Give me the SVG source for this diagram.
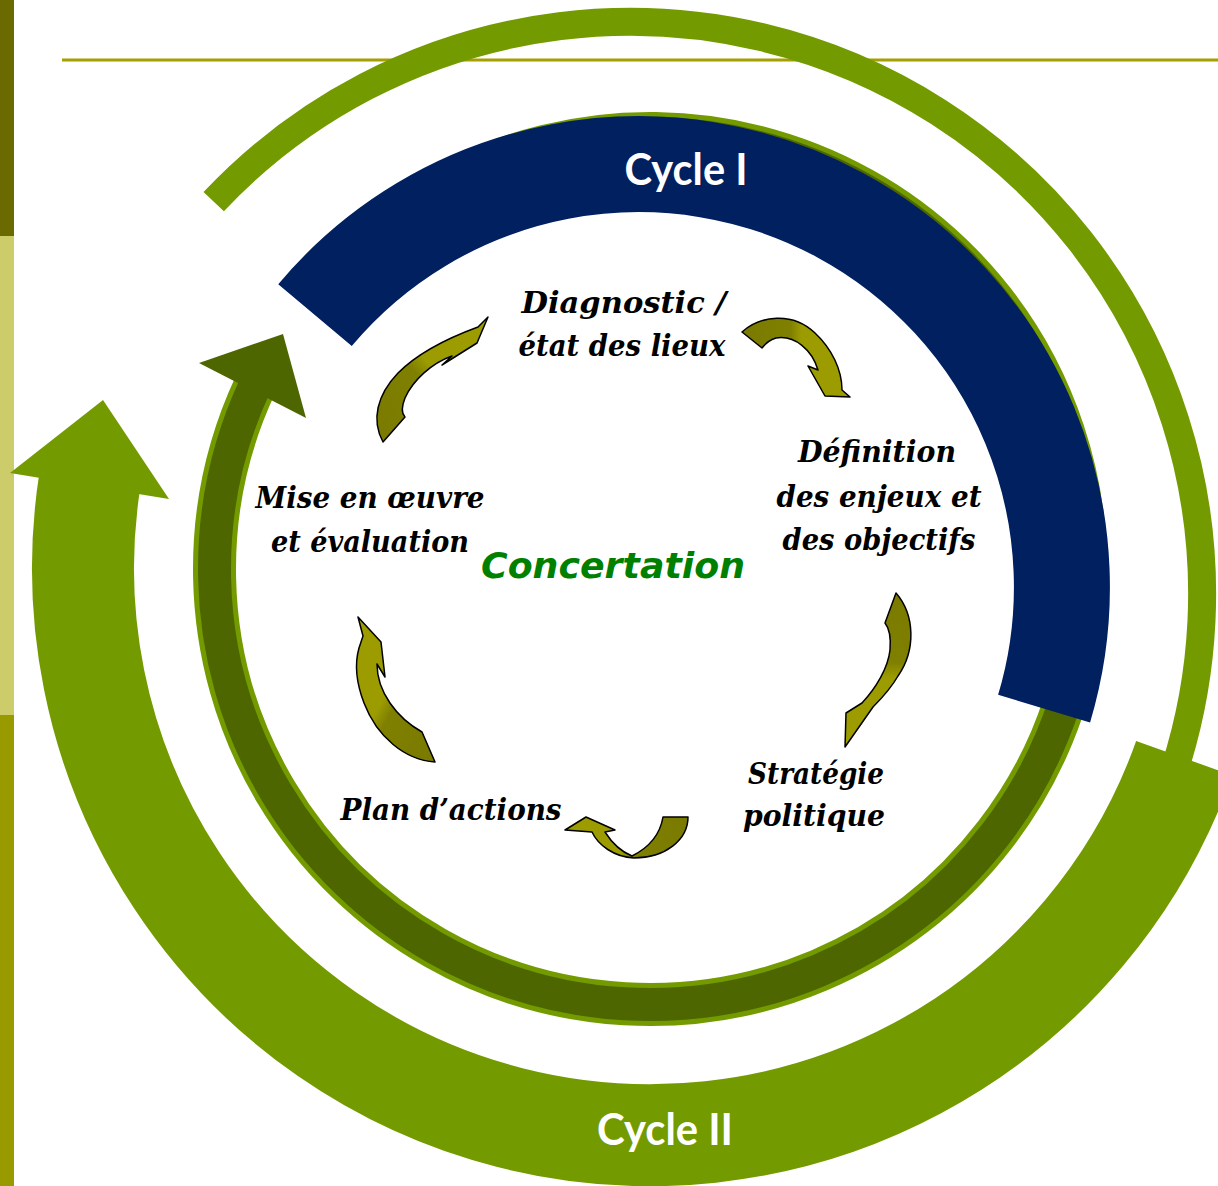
<svg xmlns="http://www.w3.org/2000/svg" width="1218" height="1186" viewBox="0 0 1218 1186">
<defs>
<style>
.lbl{font-family:"DejaVu Serif","Liberation Serif",serif;font-weight:bold;font-style:italic;font-size:29px;fill:#000;text-anchor:middle}
.cyc{font-family:Lato,"Open Sans",sans-serif;font-weight:bold;font-size:44px;fill:#fff;text-anchor:middle}
.conc{font-family:"DejaVu Sans",Verdana,sans-serif;font-weight:bold;font-style:italic;font-size:36px;fill:#008000;text-anchor:middle}
.ca{stroke:#000;stroke-width:1.5;stroke-linejoin:round}
.arc{fill:none}
</style>
<linearGradient id="g1" x1="0" y1="1" x2="1" y2="0"><stop offset="0" stop-color="#7a7a00"/><stop offset="0.45" stop-color="#7f7f00"/><stop offset="0.55" stop-color="#9c9c00"/><stop offset="1" stop-color="#9c9c00"/></linearGradient>
<linearGradient id="g2" x1="0" y1="0" x2="1" y2="0"><stop offset="0" stop-color="#7a7a00"/><stop offset="0.45" stop-color="#7f7f00"/><stop offset="0.55" stop-color="#9c9c00"/><stop offset="1" stop-color="#9c9c00"/></linearGradient>
<linearGradient id="g3" x1="0" y1="0" x2="0" y2="1"><stop offset="0" stop-color="#7a7a00"/><stop offset="0.45" stop-color="#7f7f00"/><stop offset="0.55" stop-color="#9c9c00"/><stop offset="1" stop-color="#9c9c00"/></linearGradient>
<linearGradient id="g4" x1="1" y1="0" x2="0" y2="0"><stop offset="0" stop-color="#7a7a00"/><stop offset="0.45" stop-color="#7f7f00"/><stop offset="0.55" stop-color="#9c9c00"/><stop offset="1" stop-color="#9c9c00"/></linearGradient>
<linearGradient id="g5" x1="1" y1="1" x2="0" y2="0"><stop offset="0" stop-color="#7a7a00"/><stop offset="0.45" stop-color="#7f7f00"/><stop offset="0.55" stop-color="#9c9c00"/><stop offset="1" stop-color="#9c9c00"/></linearGradient>
</defs>
<rect x="0" y="0" width="1218" height="1186" fill="#fff"/>
<g id="frame">
<rect x="0" y="0" width="14" height="236" fill="#6b6a00"/>
<rect x="0" y="236" width="14" height="479" fill="#cccc6b"/>
<rect x="0" y="715" width="14" height="471" fill="#999900"/>
<line x1="62" y1="60" x2="1218" y2="60" stroke="#a3a000" stroke-width="3"/>
</g>
<g id="cycle2">
<path class="arc" d="M213.7,201.7 A572,572 0 0 1 1160.4,808.3" stroke="#739b00" stroke-width="28"/>
<path class="arc" d="M1184.2,758.2 A567,567 0 0 1 90.0,479.3" stroke="#739b00" stroke-width="102"/>
<polygon points="10,473 103,400 169,499" fill="#739b00"/>
<text class="cyc" x="665" y="1145" textLength="136" lengthAdjust="spacingAndGlyphs">Cycle II</text>
</g>
<g id="concertation-ring">
<path class="arc" d="M370.1,235.4 A435.5,435.5 0 1 1 255.3,385.0" stroke="#739b00" stroke-width="43"/>
<path class="arc" d="M370.1,235.4 A435.5,435.5 0 1 1 255.3,385.0" stroke="#4e6600" stroke-width="33"/>
<polygon points="199,363 283,334 306,418" fill="#4e6600"/>
</g>
<g id="cycle1">
<path class="arc" d="M315.0,315.1 A423,423 0 0 1 1044.1,708.6" stroke="#002060" stroke-width="96"/>
<text class="cyc" x="686" y="185" textLength="123" lengthAdjust="spacingAndGlyphs">Cycle I</text>
</g>
<g id="node-concertation"><text class="conc" x="613" y="578" textLength="264" lengthAdjust="spacingAndGlyphs">Concertation</text></g>
<g id="node-diagnostic">
<text class="lbl" x="624" y="313" textLength="205" lengthAdjust="spacingAndGlyphs">Diagnostic /</text>
<text class="lbl" x="622" y="356" textLength="207" lengthAdjust="spacingAndGlyphs">état des lieux</text>
</g>
<g id="node-definition">
<text class="lbl" x="877" y="462" textLength="158" lengthAdjust="spacingAndGlyphs">Définition</text>
<text class="lbl" x="879" y="507" textLength="205" lengthAdjust="spacingAndGlyphs">des enjeux et</text>
<text class="lbl" x="879" y="550" textLength="193" lengthAdjust="spacingAndGlyphs">des objectifs</text>
</g>
<g id="node-strategie">
<text class="lbl" x="816" y="784" textLength="136" lengthAdjust="spacingAndGlyphs">Stratégie</text>
<text class="lbl" x="814" y="826" textLength="142" lengthAdjust="spacingAndGlyphs">politique</text>
</g>
<g id="node-plan">
<text class="lbl" x="451" y="820" textLength="221" lengthAdjust="spacingAndGlyphs">Plan d’actions</text>
</g>
<g id="node-mise">
<text class="lbl" x="370" y="508" textLength="229" lengthAdjust="spacingAndGlyphs">Mise en œuvre</text>
<text class="lbl" x="370" y="552" textLength="198" lengthAdjust="spacingAndGlyphs">et évaluation</text>
</g>
<g id="connectors">
<path class="ca" fill="url(#g1)" d="M383,442 C371,420 377,395 398,373 C418,353 448,338 478,327 L488,317 L477,343 L442,365 L452,356 C432,363 413,380 405,398 C401,408 402,414 405,417 Z"/>
<path class="ca" fill="url(#g2)" d="M742,332 C760,316 792,311 815,333 C832,349 842,370 842,390 L850,397 L825,396 L808,366 L818,370 C812,350 795,335 776,338 C769,340 765,344 762,348 Z"/>
<path class="ca" fill="url(#g3)" d="M896,593 C915,615 916,650 898,676 C890,690 880,700 873,707 L845,747 L846,713 L862,703 C876,688 888,668 890,650 C891,638 889,628 885,623 Z"/>
<path class="ca" fill="url(#g4)" d="M688,817 C688,840 665,858 634,858 C614,857 598,845 592,832 L565,830 L586,817 L615,830 L605,832 C612,843 622,852 632,856 C648,848 660,835 663,817 Z"/>
<path class="ca" fill="url(#g5)" d="M358,617 L381,642 L385,677 L377,664 C377,692 397,718 422,732 L435,762 C405,760 377,737 364,703 C356,682 355,662 359,648 L363,636 Z"/>
</g>
</svg>
